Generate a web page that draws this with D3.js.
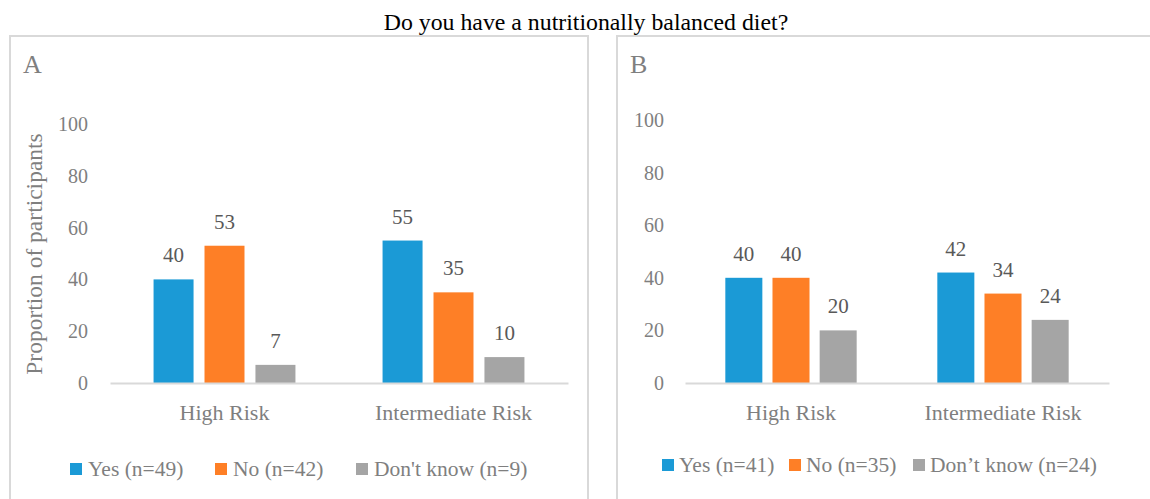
<!DOCTYPE html>
<html>
<head>
<meta charset="utf-8">
<script src="https://cdn.jsdelivr.net/npm/d3@7"></script>
<style>
    html, body { margin: 0; padding: 0; background: #fff; }
    svg { display: block; }
    svg text { font-family: "Liberation Serif", "Times New Roman", serif; }
</style>
</head>
<body>
<svg id="chart" width="1150" height="499"></svg>
<script>
"use strict";

const chartTitle = "Do you have a nutritionally balanced diet?";
const categories = ["High Risk", "Intermediate Risk"];
const seriesKeys = ["yes", "no", "dontKnow"];
const seriesColors = ["#1b9ad6", "#fe7f26", "#a5a5a5"];
const yTicks = [0, 20, 40, 60, 80, 100];

// panel A
const yesA = [40, 55];
const noA = [53, 35];
const dontKnowA = [7, 10];
const legendA = ["Yes (n=49)", "No (n=42)", "Don't know (n=9)"];

// panel B
const yesB = [40, 42];
const noB = [40, 34];
const dontKnowB = [20, 24];
const legendB = ["Yes (n=41)", "No (n=35)", "Don\u2019t know (n=24)"];

const svg = d3.select("#chart");

svg.append("text")
    .attr("x", 586)
    .attr("y", 30)
    .attr("text-anchor", "middle")
    .style("font-size", "23.8px")
    .style("fill", "#000")
    .text(chartTitle);

/**
 * Draw one boxed panel with grouped bars, labels and a legend.
 */
function drawPanel(opts) {
    const g = svg.append("g");

    g.append("rect")
        .attr("x", opts.box[0])
        .attr("y", opts.box[1])
        .attr("width", opts.box[2])
        .attr("height", opts.box[3])
        .style("fill", "none")
        .style("stroke", "#d9d9d9")
        .style("stroke-width", 2);

    g.append("text")
        .attr("x", opts.letterPos[0])
        .attr("y", opts.letterPos[1])
        .style("font-size", "26px")
        .style("fill", "#7f7f7f")
        .text(opts.letter);

    const rows = categories.map((c, i) => ({
        category: c,
        values: seriesKeys.map((k, j) => ({ key: k, idx: j, value: opts.series[j][i] }))
    }));

    const x0 = d3.scaleBand()
        .domain(categories)
        .range(opts.xRange);

    const x1 = d3.scaleBand()
        .domain(seriesKeys)
        .range([0, x0.bandwidth()])
        .paddingInner(0.215)
        .paddingOuter(0.855);

    const y = d3.scaleLinear()
        .domain([0, 100])
        .range(opts.yRange);

    // y axis labels only
    const yAxis = g.append("g")
        .attr("transform", `translate(${opts.xRange[0]},0)`)
        .call(d3.axisLeft(y).tickValues(yTicks).tickSize(0).tickPadding(opts.yTickPad));
    yAxis.attr("font-family", null).attr("font-size", null);
    yAxis.select(".domain").remove();
    yAxis.selectAll("text")
        .style("font-size", "20px")
        .style("fill", "#7f7f7f");

    const groups = g.selectAll(".cat")
        .data(rows)
        .join("g")
        .attr("class", "cat")
        .attr("transform", (d) => `translate(${x0(d.category)},0)`);

    groups.selectAll("rect")
        .data((d) => d.values)
        .join("rect")
        .attr("x", (d) => x1(d.key))
        .attr("y", (d) => y(d.value))
        .attr("width", x1.bandwidth())
        .attr("height", (d) => y(0) - y(d.value))
        .style("fill", (d) => seriesColors[d.idx]);

    groups.selectAll(".lbl")
        .data((d) => d.values)
        .join("text")
        .attr("class", "lbl")
        .attr("x", (d) => x1(d.key) + x1.bandwidth() / 2)
        .attr("y", (d) => y(d.value) - 17)
        .attr("text-anchor", "middle")
        .style("font-size", "21px")
        .style("fill", "#595959")
        .text((d) => d.value);

    // category axis
    const xAxis = g.append("g")
        .attr("transform", `translate(0,${y(0)})`)
        .call(d3.axisBottom(x0).tickSize(0).tickSizeOuter(0).tickPadding(0));
    xAxis.attr("font-family", null).attr("font-size", null);
    xAxis.select(".domain")
        .style("stroke", "#d9d9d9")
        .style("stroke-width", 2);
    xAxis.selectAll("text")
        .attr("dy", null)
        .attr("y", 37)
        .style("font-size", "22px")
        .style("fill", "#7f7f7f");

    if (opts.yTitle) {
        g.append("text")
            .attr("transform", `translate(${opts.yTitlePos[0]},${opts.yTitlePos[1]}) rotate(-90)`)
            .attr("text-anchor", "middle")
            .style("font-size", "23.5px")
            .style("fill", "#7f7f7f")
            .text(opts.yTitle);
    }

    // legend
    const legend = g.selectAll(".legend")
        .data(opts.legend)
        .join("g")
        .attr("class", "legend")
        .attr("transform", (d, i) => `translate(${opts.legendX[i]},${opts.legendY})`);
    legend.append("rect")
        .attr("x", 0)
        .attr("y", -13)
        .attr("width", 12)
        .attr("height", 12)
        .style("fill", (d, i) => seriesColors[i]);
    legend.append("text")
        .attr("x", opts.legendTextGap)
        .attr("y", 0)
        .style("font-size", "21.5px")
        .style("fill", "#7f7f7f")
        .text((d) => d);
}

drawPanel({
    letter: "A",
    letterPos: [23, 73],
    box: [10, 36, 578, 480],
    xRange: [110, 568],
    yRange: [383, 124],
    yTickPad: 22,
    series: [yesA, noA, dontKnowA],
    yTitle: "Proportion of participants",
    yTitlePos: [42, 254],
    legend: legendA,
    legendX: [70, 215, 356],
    legendY: 476,
    legendTextGap: 18
});

drawPanel({
    letter: "B",
    letterPos: [630, 73],
    box: [617, 36, 560, 480],
    xRange: [685, 1109],
    yRange: [383, 120],
    yTickPad: 21,
    series: [yesB, noB, dontKnowB],
    legend: legendB,
    legendX: [662, 789, 913],
    legendY: 472,
    legendTextGap: 17
});
</script>
</body>
</html>
